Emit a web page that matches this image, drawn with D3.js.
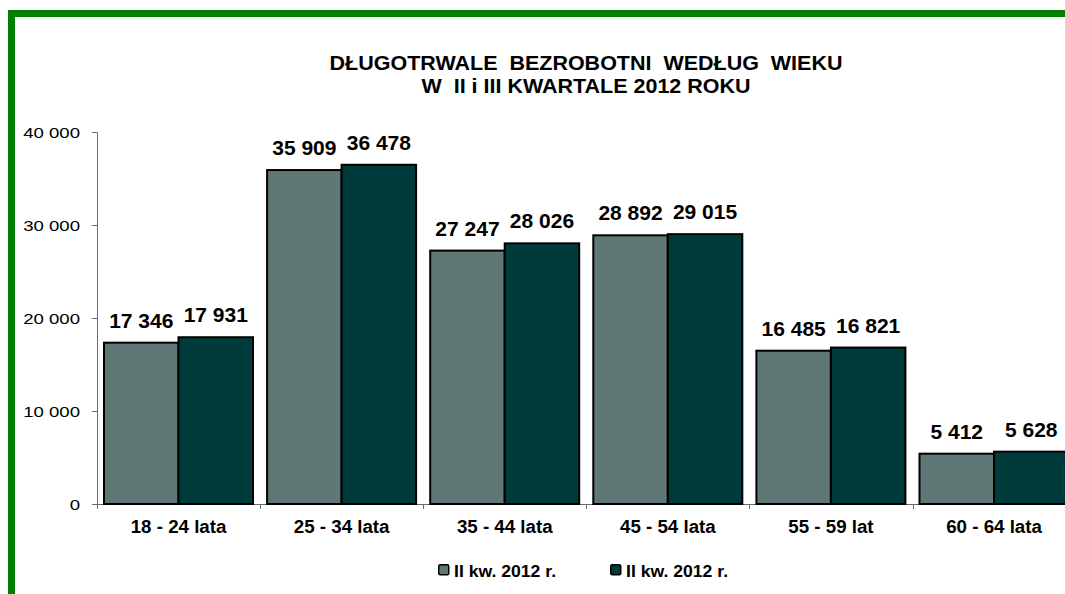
<!DOCTYPE html>
<html>
<head>
<meta charset="utf-8">
<script src="https://cdn.jsdelivr.net/npm/d3@7"></script>
<style>
  html, body { margin: 0; padding: 0; background: #fff; }
  svg { display: block; font-family: Arial, "Liberation Sans", sans-serif; }
</style>
</head>
<body>
<svg id="chart" width="1065" height="594"></svg>
<script>
const categories = ["18 - 24 lata", "25 - 34 lata", "35 - 44 lata", "45 - 54 lata", "55 - 59 lat", "60 - 64 lata"];
const seriesNames = ["II kw. 2012 r.", "II kw. 2012 r."];
const valuesQ2 = [17346, 35909, 27247, 28892, 16485, 5412];
const valuesQ3 = [17931, 36478, 28026, 29015, 16821, 5628];
const yTicks = [0, 10000, 20000, 30000, 40000];
const titleLines = ["DŁUGOTRWALE  BEZROBOTNI  WEDŁUG  WIEKU", "W  II i III KWARTALE 2012 ROKU"];
const colors = ["#5F7775", "#003B3B"];

const series = [valuesQ2, valuesQ3];
const locale = d3.formatLocale({ decimal: ",", thousands: " ", grouping: [3], currency: ["", ""] });
const fmt = locale.format(",d");

const svg = d3.select("#chart");

// green frame
svg.append("rect")
  .attr("x", 11.5).attr("y", 13.5)
  .attr("width", 1200).attr("height", 800)
  .attr("fill", "none").attr("stroke", "#008000").attr("stroke-width", 7);

// title
titleLines.forEach((t, i) => {
  svg.append("text")
    .attr("transform", `translate(586,${70 + i * 23}) scale(1.075,1)`)
    .attr("text-anchor", "middle")
    .style("white-space", "pre")
    .attr("xml:space", "preserve")
    .attr("font-size", 20).attr("font-weight", "bold")
    .text(t);
});

const left = 97, zeroY = 504, topY = 132;
const step = 163.1;
const x = d3.scaleBand().domain(categories).range([left, left + step * categories.length]).padding(0);
const x1 = d3.scaleBand().domain([0, 1]).range([7, 156]).padding(0);
const y = d3.scaleLinear().domain([0, 40000]).range([zeroY, topY]);

// y axis
const yAxis = svg.append("g").attr("transform", `translate(${left},0)`)
  .call(d3.axisLeft(y).tickValues(yTicks).tickFormat(fmt).tickSize(5).tickPadding(0));
yAxis.select(".domain").attr("stroke", "#6b6b6b");
yAxis.selectAll(".tick line").attr("stroke", "#6b6b6b");
yAxis.selectAll(".tick text")
  .attr("x", 0).attr("dy", "0.36em")
  .attr("transform", "translate(-17,0) scale(1.2,1)")
  .attr("font-size", 15.5).attr("fill", "#000")
  .attr("font-family", "Arial, 'Liberation Sans', sans-serif");

// x axis line + boundary ticks
svg.append("line").attr("x1", left).attr("x2", 1065).attr("y1", zeroY + 0.5).attr("y2", zeroY + 0.5)
  .attr("stroke", "#6b6b6b");
const bounds = categories.map(c => x(c)).concat([x(categories[categories.length - 1]) + x.bandwidth()]);
svg.append("g").selectAll("line").data(bounds).join("line")
  .attr("x1", d => Math.round(d) + 0.5).attr("x2", d => Math.round(d) + 0.5)
  .attr("y1", zeroY).attr("y2", zeroY + 5)
  .attr("stroke", "#6b6b6b");

// bars
const groups = svg.append("g").selectAll("g").data(categories).join("g")
  .attr("transform", d => `translate(${x(d)},0)`);
groups.selectAll("rect")
  .data((c, i) => series.map((s, k) => ({ k, v: s[i] })))
  .join("rect")
  .attr("x", d => x1(d.k))
  .attr("width", x1.bandwidth())
  .attr("y", d => y(d.v))
  .attr("height", d => zeroY - y(d.v))
  .attr("fill", d => colors[d.k])
  .attr("stroke", "#000").attr("stroke-width", 2);

// value labels
groups.selectAll("text.val")
  .data((c, i) => series.map((s, k) => ({ k, v: s[i] })))
  .join("text").attr("class", "val")
  .attr("x", d => x1(d.k) + x1.bandwidth() / 2)
  .attr("y", d => y(d.v) - 15)
  .attr("text-anchor", "middle")
  .attr("font-size", 21).attr("font-weight", "bold")
  .text(d => fmt(d.v));

// x labels
const xAxis = svg.append("g").attr("transform", `translate(0,${zeroY})`)
  .call(d3.axisBottom(x).tickSize(0).tickPadding(0));
xAxis.select(".domain").remove();
xAxis.selectAll(".tick text")
  .attr("y", 29.5).attr("dy", 0)
  .attr("font-size", 17.5).attr("font-weight", "bold").attr("fill", "#000")
  .attr("transform", "scale(1.07,1)")
  .attr("font-family", "Arial, 'Liberation Sans', sans-serif");

// legend
const legendX = [438, 610];
const legend = svg.append("g").selectAll("g").data(seriesNames).join("g")
  .attr("transform", (d, i) => `translate(${legendX[i]},564)`);
legend.append("rect")
  .attr("x", 0.75).attr("y", 0.75).attr("width", 10).attr("height", 10)
  .attr("rx", 1.5)
  .attr("fill", (d, i) => colors[i]).attr("stroke", "#000").attr("stroke-width", 1.5);
legend.append("text")
  .attr("transform", "translate(16,12.5) scale(1.08,1)")
  .attr("font-size", 16.3).attr("font-weight", "bold")
  .text(d => d);
</script>
</body>
</html>
